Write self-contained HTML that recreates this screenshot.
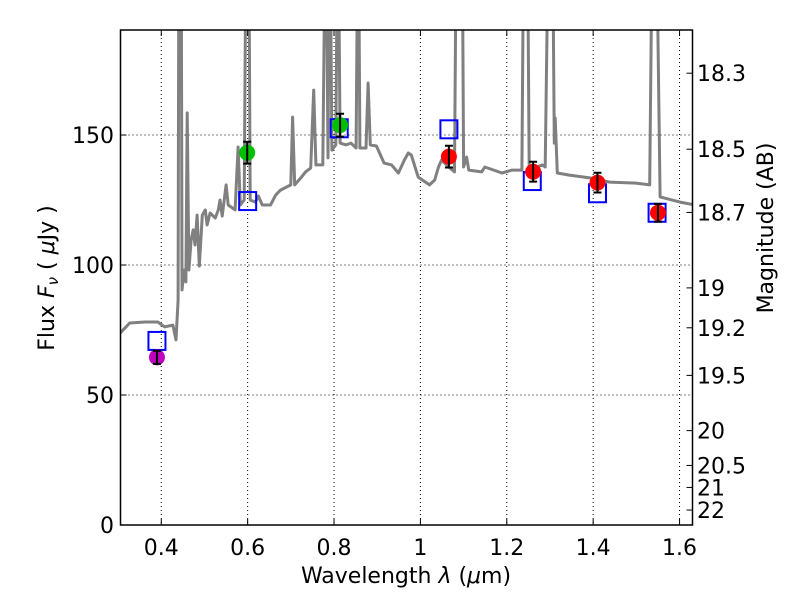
<!DOCTYPE html>
<html><head><meta charset="utf-8"><style>
body{margin:0;background:#fff;}
svg{display:block;font-family:"DejaVu Sans","Liberation Sans",sans-serif;}
</style></head><body>
<svg id="chart" width="800" height="600" viewBox="0 0 800 600">
<defs><clipPath id="plotclip"><rect x="120.5" y="30" width="572" height="495"/></clipPath></defs>
<rect x="0" y="0" width="800" height="600" fill="#fff"/>
<g id="grid"></g>
<g id="spec" clip-path="url(#plotclip)"></g>
<g id="marks"></g>
<rect x="120.5" y="30" width="572" height="495" fill="none" stroke="#000" stroke-width="1.5"/>
<g id="axes"></g>
<text x="406" y="583" font-size="22" text-anchor="middle">Wavelength  <tspan font-style="italic">λ</tspan> (<tspan font-style="italic">μ</tspan>m)</text>
<text transform="translate(54,278) rotate(-90)" font-size="22" text-anchor="middle">Flux  <tspan font-style="italic">F<tspan font-size="15" dy="4">ν</tspan></tspan><tspan dy="-4">  ( </tspan><tspan font-style="italic">μ</tspan>Jy )</text>
<text transform="translate(773,228) rotate(-90)" font-size="22" text-anchor="middle">Magnitude (AB)</text>
</svg>
<script>
const specWl=[0.303,0.327,0.362,0.392,0.408,0.427,0.434,0.439,0.441,0.446,0.448,0.453,0.457,0.460,0.464,0.469,0.474,0.478,0.483,0.488,0.495,0.502,0.506,0.513,0.525,0.532,0.536,0.541,0.550,0.555,0.571,0.578,0.583,0.592,0.597,0.602,0.606,0.618,0.625,0.634,0.653,0.665,0.676,0.700,0.704,0.709,0.723,0.734,0.746,0.753,0.758,0.774,0.781,0.786,0.790,0.795,0.804,0.809,0.814,0.828,0.839,0.851,0.856,0.860,0.874,0.879,0.884,0.898,0.916,0.933,0.949,0.963,0.972,0.979,0.995,1.021,1.033,1.042,1.049,1.068,1.079,1.084,1.096,1.100,1.107,1.112,1.142,1.149,1.189,1.212,1.235,1.240,1.247,1.252,1.282,1.289,1.298,1.305,1.310,1.312,1.317,1.345,1.392,1.438,1.499,1.531,1.538,1.545,1.555,1.601,1.636];
const specFlux=[73.5,77.7,78.1,78.1,76.2,76.9,71.2,86.5,250,250,90.4,98.1,93.5,158.5,98.1,109.6,113.5,107.7,119.2,99.6,119.2,121.2,115.4,120.0,118.1,121.2,125.0,118.8,130.8,123.1,121.2,145.4,123.1,125.0,250,250,125.0,124.2,126.5,123.1,123.1,126.9,128.8,130.8,156.9,130.8,133.5,135.8,137.3,167.3,138.5,138.5,250,141.2,250,144.2,146.2,250,146.9,146.2,146.9,145.0,250,145.0,145.0,170.0,146.2,145.8,139.2,138.5,135.4,140.4,143.1,142.3,133.8,130.8,132.7,137.7,140.4,137.3,135.8,250,250,137.7,141.5,136.5,135.8,137.7,135.4,136.5,136.5,250,250,136.5,138.5,137.7,250,250,146.9,156.5,135.4,134.6,133.5,131.9,131.5,130.8,250,250,126.2,124.2,123.1];
const photWl=[0.390,0.599,0.814,1.066,1.261,1.410,1.550];
const photFlux=[64.5,143.2,153.8,141.7,135.9,131.7,120.1];
const photErr=[2.5,4.2,4.4,4.2,3.8,3.8,3.4];
const photColor=["#bf00bf","#00bf00","#00bf00","#ff0000","#ff0000","#ff0000","#ff0000"];
const modelWl=[0.390,0.600,0.812,1.066,1.259,1.410,1.548];
const modelFlux=[70.8,124.6,152.6,152.2,132.3,127.6,120.1];
const xTicks=[0.4,0.6,0.8,1.0,1.2,1.4,1.6];
const xTickLabels=["0.4","0.6","0.8","1","1.2","1.4","1.6"];
const yTicks=[0,50,100,150];
const magTicks=[18.3,18.5,18.7,19,19.2,19.5,20,20.5,21,22];
const magLabels=["18.3","18.5","18.7","19","19.2","19.5","20","20.5","21","22"];

const X0=120.5,X1=692.5,Y0=525,Y1=30;
const xmin=0.3056,xmax=1.630,ymin=0,ymax=190.4;
const sx=v=>X0+(v-xmin)/(xmax-xmin)*(X1-X0);
const sy=v=>Y0-(v-ymin)/(ymax-ymin)*(Y0-Y1);
const NS="http://www.w3.org/2000/svg";
function mk(tag,attrs,parent){const e=document.createElementNS(NS,tag);for(const k in attrs)e.setAttribute(k,attrs[k]);parent.appendChild(e);return e;}
const grid=document.getElementById('grid'),axes=document.getElementById('axes'),spec=document.getElementById('spec'),marks=document.getElementById('marks');

xTicks.forEach((t,i)=>{
  const x=sx(t);
  const g=mk('line',{x1:x,x2:x,y1:Y1,y2:Y0,stroke:'#000','stroke-width':1,'stroke-dasharray':'1,3'},grid);
  
  
  const tk=mk('line',{x1:x,x2:x,y1:Y0,y2:Y0-6,stroke:'#000','stroke-width':1},axes);
  
  
  const tk2=mk('line',{x1:x,x2:x,y1:Y1,y2:Y1+6,stroke:'#000','stroke-width':1},axes);
  
  
  const lb=mk('text',{x:x,y:555,'font-size':22,'text-anchor':'middle'},axes);
  lb.textContent=xTickLabels[i];
  
  
});
yTicks.forEach(t=>{
  const y=sy(t);
  if(t>0){const g=mk('line',{x1:X0,x2:X1,y1:y,y2:y,stroke:'#000','stroke-width':1,'stroke-dasharray':'1,3'},grid);
  
  }
  const tk=mk('line',{x1:X0,x2:X0+6,y1:y,y2:y,stroke:'#000','stroke-width':1},axes);
  
  
  const lb=mk('text',{x:114,y:y+8,'font-size':22,'text-anchor':'end'},axes);
  lb.textContent=String(t);
  
  
});
magTicks.forEach((m,i)=>{
  const f=Math.pow(10,(23.9-m)/2.5);
  const y=sy(f);
  const tk=mk('line',{x1:X1-6,x2:X1,y1:y,y2:y,stroke:'#000','stroke-width':1},axes);
  
  
  const lb=mk('text',{x:697,y:y+8,'font-size':22},axes);
  lb.textContent=magLabels[i];
  
  
});

const pts=specWl.map((w,i)=>sx(w).toFixed(1)+','+sy(specFlux[i]).toFixed(1)).join(' ');
const pl=mk('polyline',{points:pts,fill:'none',stroke:'#808080','stroke-width':3,'stroke-linejoin':'round'},spec);



modelWl.forEach((w,i)=>{
  const r=mk('rect',{x:sx(w)-8.5,y:sy(modelFlux[i])-9,width:17,height:18,fill:'none',stroke:'#0000ff','stroke-width':2},marks);
  
  
});
photWl.forEach((w,i)=>{
  const x=sx(w),y=sy(photFlux[i]);
  const c=mk('circle',{cx:x,cy:y,r:8,fill:photColor[i]},marks);
  
  
  const y1=sy(photFlux[i]+photErr[i]),y2=sy(photFlux[i]-photErr[i]);
  const e=mk('path',{d:`M${x},${y1}V${y2}M${x-4},${y1}H${x+4}M${x-4},${y2}H${x+4}`,stroke:'#000','stroke-width':2,fill:'none'},marks);
  
  
});
</script>
</body></html>
